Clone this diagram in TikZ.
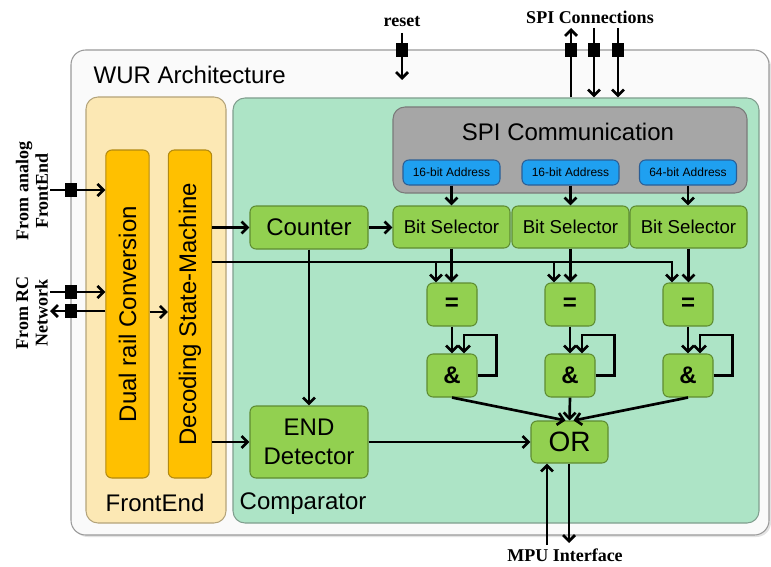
\documentclass[tikz,border=0pt]{standalone}
\usepackage{fontspec}
\setmainfont{Liberation Serif}
\setsansfont{Liberation Sans}
\usetikzlibrary{arrows.meta,shadows}
\definecolor{outerfill}{HTML}{FAFAFA}
\definecolor{outerdraw}{HTML}{9A9A9A}
\definecolor{frontfill}{HTML}{FCE8B4}
\definecolor{frontdraw}{HTML}{B4A47A}
\definecolor{compfill}{HTML}{ADE4C6}
\definecolor{compdraw}{HTML}{809E8E}
\definecolor{orangefill}{HTML}{FFC000}
\definecolor{orangedraw}{HTML}{B38A10}
\definecolor{greenfill}{HTML}{92D050}
\definecolor{greendraw}{HTML}{5E8C31}
\definecolor{grayfill}{HTML}{A6A6A6}
\definecolor{graydraw}{HTML}{7A7A7A}
\definecolor{bluefill}{HTML}{1FA0F0}
\definecolor{bluedraw}{HTML}{2A5E96}
\begin{document}
\begin{tikzpicture}[x=0.75pt,y=-0.75pt,
  arr/.style={line width=2pt,-{Straight Barb[length=4.5pt,width=9pt,line width=2pt]}},
  ln/.style={line width=2pt},
  box/.style={draw,line width=0.8pt,rounded corners=4.5pt,inner sep=0pt,font=\sffamily,text=black},
  orangebox/.style={box,fill=orangefill,draw=orangedraw,minimum width=32.5pt,minimum height=246pt},
  greenbox/.style={box,fill=greenfill,draw=greendraw},
  addrbox/.style={box,fill=bluefill,draw=bluedraw,minimum width=72.75pt,minimum height=18.75pt,font=\sffamily\fontsize{9}{10}\selectfont},
  bitsel/.style={greenbox,minimum width=87.75pt,minimum height=31.5pt,font=\sffamily\fontsize{14}{16}\selectfont},
  gate/.style={greenbox,minimum width=37.5pt,minimum height=32.25pt,font=\sffamily\bfseries\fontsize{18}{20}\selectfont},
  sq/.style={fill=black,inner sep=0pt,minimum width=9pt,minimum height=10pt},
  lbl/.style={font=\bfseries\fontsize{13.5}{14.5}\selectfont,align=center},
  big/.style={font=\sffamily\fontsize{18}{22}\selectfont}
]
\useasboundingbox (0,0) rectangle (771,567);

% containers
\node[box,fill=outerfill,draw=outerdraw,rounded corners=11pt,minimum width=523.5pt,minimum height=363.75pt,
      drop shadow={shadow xshift=1.5pt,shadow yshift=-1.5pt,fill=black!22}] (outer) at (420,292.5) {};
\node[box,fill=frontfill,draw=frontdraw,rounded corners=9pt,minimum width=105pt,minimum height=319.5pt] (front) at (156,310) {};
\node[box,fill=compfill,draw=compdraw,rounded corners=9pt,minimum width=394.5pt,minimum height=318.75pt] (comp) at (496,310.5) {};

% front end blocks
\node[orangebox] (dual) at (127.5,314) {};
\node[orangebox] (dec) at (190,314) {};
\node[big,rotate=90] (dualtxt) at (dual) {Dual rail Conversion};
\node[big,rotate=90] (dectxt) at (dec) {Decoding State-Machine};

% SPI
\node[box,fill=grayfill,draw=graydraw,rounded corners=9pt,minimum width=265.5pt,minimum height=64.5pt] (spi) at (570,150) {};
\node[big] (spitxt) at (568,132) {SPI Communication};
\node[addrbox] (a1) at (451.5,172.5) {16-bit Address};
\node[addrbox] (a2) at (570.5,172.5) {16-bit Address};
\node[addrbox] (a3) at (688,172.5) {64-bit Address};

% comparator blocks
\node[greenbox,minimum width=88.5pt,minimum height=32.25pt,big] (counter) at (309,227.5) {Counter};
\node[bitsel] (bs1) at (451.5,227) {Bit Selector};
\node[bitsel] (bs2) at (570.5,227) {Bit Selector};
\node[bitsel] (bs3) at (688.5,227) {Bit Selector};
\node[gate] (eq1) at (452,304.5) {=};
\node[gate] (eq2) at (570,304.5) {=};
\node[gate] (eq3) at (688,304.5) {=};
\node[gate] (and1) at (452,375.5) {\&};
\node[gate] (and2) at (570,375.5) {\&};
\node[gate] (and3) at (688,375.5) {\&};
\node[greenbox,minimum width=88.5pt,minimum height=54pt,big,align=center] (endd) at (309,442) {END\\Detector};
\node[greenbox,minimum width=57.75pt,minimum height=31.5pt,font=\sffamily\fontsize{21}{24}\selectfont] (orr) at (569.5,442) {OR};

% container labels
\node[big,anchor=west] (wurtxt) at (89,75) {WUR Architecture};
\node[big] (fronttxt) at (155,503) {FrontEnd};
\node[big,anchor=west] (comptxt) at (235,504) {Comparator};

% outside labels
\node[lbl] (resettxt) at (402,22) {reset};
\node[lbl] (spiconn) at (590,17) {SPI Connections};
\node[lbl] (mputxt) at (565,555) {MPU Interface};
\node[lbl,rotate=90] (analogtxt) at (32,191) {From analog\\FrontEnd};
\node[lbl,rotate=90] (rctxt) at (32,313) {From RC\\Network};

% helper coordinates
\coordinate (inA) at (50,190);
\coordinate (inB) at (50,292);
\coordinate (outB) at (50,311);
\coordinate (yDS) at (0,312);
\coordinate (bus) at (0,262);
\coordinate (fb) at (0,335);
\coordinate (rTop) at (402,33);
\coordinate (rEnd) at (402,80);
\coordinate (c1) at (571,28);
\coordinate (c2) at (594,28);
\coordinate (c3) at (618,28);
\coordinate (m1) at (547,545);
\coordinate (m2) at (569,543);
\coordinate (t1) at ([xshift=-12pt]eq1.north);
\coordinate (t2) at ([xshift=-12pt]eq2.north);
\coordinate (t3) at ([xshift=-12pt]eq3.north);
\coordinate (f1) at ([xshift=9pt]and1.north);
\coordinate (f2) at ([xshift=9pt]and2.north);
\coordinate (f3) at ([xshift=9pt]and3.north);

% connectors: inputs
\draw[arr] (inA) -- (dual.west |- inA);
\draw[arr] (inB) -- (dual.west |- inB);
\draw[arr] (dual.west |- outB) -- (outB);
\draw[arr] (dual.east |- yDS) -- (dec.west |- yDS);

% top
\draw[arr] (rTop) -- (rEnd);
\draw[arr] (c1 |- comp.north) -- (c1);
\draw[arr] (c2) -- (c2 |- comp.north);
\draw[arr] (c3) -- (c3 |- comp.north);

% address to bit selectors
\draw[arr] (a1.south) -- (a1.south |- bs1.north);
\draw[arr] (a2.south) -- (a2.south |- bs2.north);
\draw[arr] (a3.south) -- (a3.south |- bs3.north);

% decoding outputs
\draw[arr] (dec.east |- counter) -- (counter.west);
\draw[arr] (counter.east) -- (counter.east -| bs1.west);
\draw[arr] (dec.east |- bus) -- (t3 |- bus) -- (t3);
\draw[arr] (t1 |- bus) -- (t1);
\draw[arr] (t2 |- bus) -- (t2);
\draw[arr] (dec.east |- endd) -- (endd.west);
\draw[arr] (counter.south) -- (endd.north);

% bit selectors to comparators
\draw[arr] (bs1.south) -- (bs1.south |- eq1.north);
\draw[arr] (bs2.south) -- (bs2.south |- eq2.north);
\draw[arr] (bs3.south) -- (bs3.south |- eq3.north);
\draw[arr] (eq1.south) -- (and1.north);
\draw[arr] (eq2.south) -- (and2.north);
\draw[arr] (eq3.south) -- (and3.north);

% feedback loops
\draw[arr] (and1.east) -- ++(19,0) |- (f1 |- fb) -- (f1);
\draw[arr] (and2.east) -- ++(19,0) |- (f2 |- fb) -- (f2);
\draw[arr] (and3.east) -- ++(19,0) |- (f3 |- fb) -- (f3);

% to OR
\draw[arr] (and1.south) -- ([xshift=-3pt]orr.north);
\draw[arr] (and2.south) -- (orr.north);
\draw[arr] (and3.south) -- ([xshift=3pt]orr.north);
\draw[arr] (endd.east) -- (orr.west);

% MPU
\draw[arr] (m1) -- (m1 |- orr.south);
\draw[arr] (m2 |- orr.south) -- (m2);

% port squares
\node[sq] (sqA) at (71,190) {};
\node[sq] (sqB) at (71,292) {};
\node[sq] (sqC) at (71,311) {};
\node[sq] (sqR) at (402,50) {};
\node[sq] (sq1) at (571,50) {};
\node[sq] (sq2) at (594,50) {};
\node[sq] (sq3) at (618,50) {};
\end{tikzpicture}
\end{document}
